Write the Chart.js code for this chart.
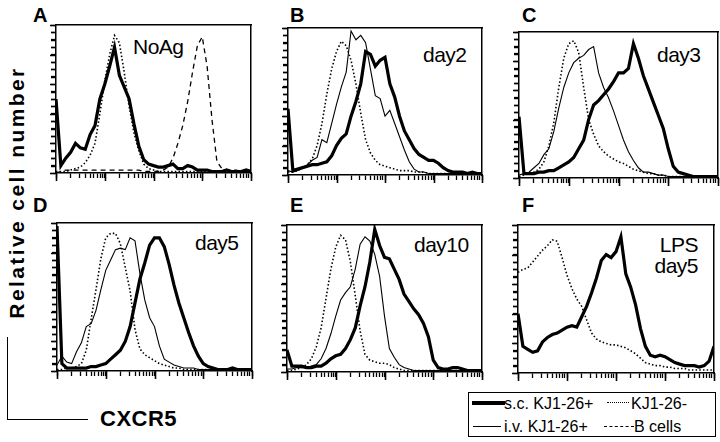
<!DOCTYPE html>
<html>
<head>
<meta charset="utf-8">
<script src="https://cdn.jsdelivr.net/npm/chart.js@4.4.1/dist/chart.umd.min.js"></script>
<style>
  body { margin: 0; background: #fff; width: 720px; height: 442px; position: relative; overflow: hidden;
         font-family: "Liberation Sans", Arial, sans-serif; color: #000; }
  canvas { position: absolute; }
  .letter { position: absolute; font-weight: bold; font-size: 20px; line-height: 20px; }
  .tag { position: absolute; font-size: 21px; line-height: 21px; letter-spacing: -0.5px; }
  #ylab { position: absolute; left: -134px; top: 182px; width: 300px; text-align: center; font-weight: bold;
          font-size: 21px; line-height: 21px; letter-spacing: 2.4px; transform: rotate(-90deg); }
  #xlab { position: absolute; left: 100px; top: 408px; font-weight: bold; font-size: 22px; line-height: 22px; letter-spacing: 0.5px; }
  #brk { position: absolute; left: 7px; top: 337px; width: 80px; height: 82px; border-left: 1.5px solid #000; border-bottom: 1.5px solid #000; }
  #legend { position: absolute; left: 468px; top: 392px; width: 248px; height: 45px; border: 1px solid #000; box-sizing: border-box;
            font-size: 16px; line-height: 16px; }
  .row { position: absolute; }
  .sw { position: absolute; }
</style>
</head>
<body>
<div class="letter" style="left:33px;top:5px">A</div>
<div class="letter" style="left:290px;top:5px">B</div>
<div class="letter" style="left:522px;top:5px">C</div>
<div class="letter" style="left:33px;top:195px">D</div>
<div class="letter" style="left:290px;top:195px">E</div>
<div class="letter" style="left:522px;top:195px">F</div>

<div class="tag" style="left:133px;top:36px">NoAg</div>
<div class="tag" style="left:423px;top:44px">day2</div>
<div class="tag" style="left:657px;top:44px">day3</div>
<div class="tag" style="left:195px;top:232px">day5</div>
<div class="tag" style="left:414px;top:234px">day10</div>
<div class="tag" style="left:600px;top:234px;width:98px;text-align:right">LPS</div>
<div class="tag" style="left:600px;top:255px;width:98px;text-align:right">day5</div>

<div id="ylab">Relative cell number</div>
<div id="brk"></div>
<div id="xlab">CXCR5</div>

<div id="legend">
  <div class="sw" style="left:3px;top:8px;width:33px;border-top:4px solid #000"></div>
  <div class="row" style="left:35px;top:3px">s.c. KJ1-26+</div>
  <div class="sw" style="left:138px;top:9px;width:22px;border-top:1.5px dotted #000"></div>
  <div class="row" style="left:162px;top:3px">KJ1-26-</div>
  <div class="sw" style="left:4px;top:33px;width:28px;border-top:1px solid #000"></div>
  <div class="row" style="left:35px;top:26px">i.v. KJ1-26+</div>
  <div class="sw" style="left:135px;top:33px;width:30px;border-top:1.5px dashed #000"></div>
  <div class="row" style="left:165px;top:26px">B cells</div>
</div>

<script>
// fluorescence channel, in decades (log10 of CXCR5 intensity)
const channels = [0,0.1,0.2,0.3,0.4,0.5,0.6,0.7,0.8,0.9,1,1.1,1.2,1.3,1.4,1.5,1.6,1.7,1.8,1.9,2,
  2.1,2.2,2.3,2.4,2.5,2.6,2.7,2.8,2.9,3,3.1,3.2,3.3,3.4,3.5,3.6,3.7,3.8,3.9,4];

// A: no antigen
const aThick  = [50,5,10,14,20,17,16,26,32,50, 60,72,85,66,58,50,33,18,9,6, 5,4,4,5,6,3,3,5,4,2, 2,2,1,1,1,2,1,1,1,2, 1];
const aDotted = [1,1,1,2,3,4,7,12,20,40, 62,80,93,88,68,45,27,15,6,3, 2,1,1,1,1,1,1,1,1,1, 1,1,1,1,1,1,1,1,1,1, 1];
const aDashed = [0,1,2,2,2,2,2,2,2,2, 2,2,2,2,2,2,2,2,1,1, 1,1,2,4,10,20,32,48,68,86, 92,72,36,8,3,2,2,2,1,1, 1];
// B: day2
const bThick  = [45,3,4,5,6,7,7,8,9,13, 20,25,28,40,50,62,84,82,74,78, 80,62,53,40,30,24,18,14,12,10, 10,8,5,3,2,2,2,1,2,1, 1];
const bThin   = [3,2,3,5,7,10,12,24,22,35, 48,60,70,98,92,95,90,72,54,52, 40,44,35,26,17,9,4,2,2,1, 1,1,1,1,1,1,1,1,1,1, 1];
const bDotted = [2,2,3,5,7,11,20,35,55,72, 84,91,88,78,62,42,24,15,10,7, 6,5,4,3,3,3,2,2,2,1, 1,1,1,1,1,1,1,1,1,1, 1];
// C: day3
const cThick  = [42,3,3,3,4,4,5,5,7,9, 11,14,20,26,40,50,53,57,61,66, 72,72,75,92,82,70,61,52,43,34, 20,8,4,3,2,1,1,1,1,1, 1];
const cThin   = [2,3,4,7,10,16,20,32,48,62, 72,79,82,84,88,90,72,62,55,46, 36,26,18,12,7,4,4,3,2,2, 1,1,1,1,1,1,1,1,1,1, 1];
const cDotted = [1,2,3,4,6,11,22,38,62,82, 92,94,86,62,40,30,22,18,15,13, 11,10,8,6,5,4,3,3,2,2, 1,1,1,1,1,1,1,1,1,1, 1];
// D: day5
const dThick  = [98,5,2,2,2,2,2,3,3,4, 5,8,11,14,20,30,46,62,73,85, 90,90,84,72,58,46,36,26,17,10, 5,3,2,1,1,1,2,1,1,1, 1];
const dThin   = [4,10,6,5,13,19,30,32,41,55, 68,75,82,83,82,90,88,66,48,36, 30,17,8,6,4,3,2,2,2,1, 1,1,1,1,1,1,1,1,1,1, 1];
const dDotted = [1,1,2,2,3,5,14,35,55,76, 90,93,93,86,70,54,28,15,11,9, 7,5,4,3,2,2,1,1,1,1, 1,1,1,1,1,1,1,1,1,1, 1];
// E: day10
const eThick  = [15,4,4,4,3,3,4,4,6,9, 11,12,16,22,30,45,58,75,97,86, 78,77,70,63,53,48,43,39,33,24, 8,3,2,2,3,3,2,1,1,1, 1];
const eThin   = [2,2,3,3,3,4,5,9,16,26, 38,49,54,58,70,87,92,89,80,65, 38,16,10,5,3,2,1,1,1,1, 1,1,1,1,1,1,1,1,1,1, 1];
const eDotted = [1,1,2,3,5,9,17,30,50,70, 85,93,90,75,52,28,12,8,7,6, 6,5,3,2,1,1,1,1,1,1, 1,1,1,1,1,1,1,1,1,1, 1];
// F: LPS day5
const fThick  = [40,18,16,14,15,21,24,26,27,29, 31,32,31,38,45,54,64,76,80,78, 82,92,67,58,46,30,18,12,11,12, 11,9,7,6,5,5,5,4,5,8, 18];
const fDotted = [68,70,71,75,79,83,86,90,89,78, 66,57,50,45,36,27,23,21,20,19, 19,18,17,15,13,10,7,6,5,5, 4,4,3,3,3,2,2,2,2,2, 2];

const styles = {
  thick:  { borderWidth: 3.2, borderDash: [] },
  thin:   { borderWidth: 1.1, borderDash: [] },
  dotted: { borderWidth: 1.6, borderDash: [1.5, 2.2] },
  dashed: { borderWidth: 1.3, borderDash: [5, 4] }
};

// plot boxes: left, top, right, bottom
const panels = [
  { box: [56, 25, 251, 173],  series: [[aDashed, 'dashed'], [aDotted, 'dotted'], [aThick, 'thick']] },
  { box: [288, 28, 482, 175], series: [[bDotted, 'dotted'], [bThin, 'thin'], [bThick, 'thick']] },
  { box: [519, 32, 718, 178], series: [[cDotted, 'dotted'], [cThin, 'thin'], [cThick, 'thick']] },
  { box: [57, 223, 252, 371], series: [[dDotted, 'dotted'], [dThin, 'thin'], [dThick, 'thick']] },
  { box: [287, 225, 482, 372], series: [[eDotted, 'dotted'], [eThin, 'thin'], [eThick, 'thick']] },
  { box: [518, 225, 714, 373], series: [[fDotted, 'dotted'], [fThick, 'thick']] }
];

const logTicks = [];
for (let d = 0; d < 4; d++) for (let k = 1; k <= 9; k++) logTicks.push(d + Math.log10(k));
logTicks.push(4);

const edge = { display: true, width: 1.5, color: '#000' };

// tick marks read from the chart's own scales: y ticks outside the left edge,
// and the decade ticks on x drawn a bit longer than the minor ones
const axisMarks = {
  id: 'axisMarks',
  afterDraw(chart) {
    const { ctx, chartArea: a, scales: { x, y } } = chart;
    ctx.save();
    ctx.strokeStyle = '#000';
    ctx.lineWidth = 1.3;
    ctx.beginPath();
    y.ticks.forEach(tk => {
      const py = Math.round(y.getPixelForValue(tk.value)) + 0.5;
      const len = tk.value % 20 === 0 ? 6 : 5;
      ctx.moveTo(a.left - len, py);
      ctx.lineTo(a.left, py);
    });
    ctx.stroke();
    ctx.lineWidth = 1.6;
    ctx.beginPath();
    x.ticks.filter(tk => Number.isInteger(tk.value)).forEach(tk => {
      const px = Math.round(x.getPixelForValue(tk.value)) + 0.5;
      ctx.moveTo(px, a.bottom);
      ctx.lineTo(px, a.bottom + 8);
    });
    ctx.stroke();
    ctx.restore();
  }
};

panels.forEach(p => {
  const [l, t, r, b] = p.box;
  const cv = document.createElement('canvas');
  cv.width = r - l + 10;
  cv.height = b - t + 13;
  cv.style.left = (l - 8) + 'px';
  cv.style.top = (t - 3) + 'px';
  document.body.appendChild(cv);

  new Chart(cv, {
    type: 'line',
    data: {
      datasets: p.series.map(([vals, kind]) => ({
        data: vals.map((v, i) => ({ x: channels[i], y: v })),
        borderColor: '#000',
        borderWidth: styles[kind].borderWidth,
        borderDash: styles[kind].borderDash,
        pointRadius: 0
      }))
    },
    options: {
      responsive: false,
      animation: false,
      events: [],
      layout: { padding: { left: 2, top: 3, right: 2, bottom: 1 } },
      plugins: { legend: { display: false } },
      scales: {
        x: {
          type: 'linear', min: 0, max: 4,
          afterBuildTicks: s => { s.ticks = logTicks.map(v => ({ value: v })); },
          afterFit: s => { s.height = 9; },
          ticks: { display: false },
          border: edge,
          grid: { drawOnChartArea: false, tickLength: 5, tickColor: '#000', tickWidth: 1.3 }
        },
        y: {
          min: 0, max: 100,
          afterFit: s => { s.width = 6; },
          ticks: { display: false, stepSize: 5, maxTicksLimit: 40 },
          border: edge,
          grid: { drawOnChartArea: false, tickLength: 5, tickColor: '#000', tickWidth: 1.3 }
        },
        xTop: {
          type: 'linear', position: 'top', min: 0, max: 4,
          afterFit: s => { s.height = 0; },
          ticks: { display: false },
          grid: { display: false },
          border: edge
        },
        yRight: {
          type: 'linear', position: 'right', min: 0, max: 100,
          afterFit: s => { s.width = 0; },
          ticks: { display: false },
          grid: { display: false },
          border: edge
        }
      }
    },
    plugins: [axisMarks]
  });
});
</script>
</body>
</html>
